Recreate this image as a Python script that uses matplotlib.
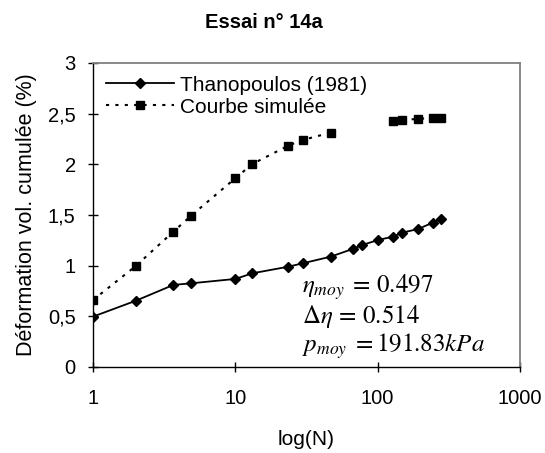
import numpy as np
import matplotlib
matplotlib.use("Agg")
import matplotlib.pyplot as plt
from matplotlib.ticker import FixedLocator, FixedFormatter, NullLocator

plt.rcParams['font.family'] = ['Liberation Sans', 'DejaVu Sans']

# Data
N = [1, 2, 3.67, 4.9, 10, 13.2, 23.6, 29.7, 46.8, 66.8, 78, 101, 128, 149, 193, 244, 277]
thanopoulos = [0.497, 0.654, 0.81, 0.826, 0.869, 0.925, 0.99, 1.023, 1.089, 1.165, 1.204,
               1.254, 1.286, 1.326, 1.362, 1.425, 1.461]
simulee = [0.661, 0.997, 1.336, 1.494, 1.863, 2.004, 2.185, 2.24, 2.313, np.nan, np.nan,
           np.nan, 2.43, 2.435, 2.45, 2.455, 2.455]

yticks = [0, 0.5, 1, 1.5, 2, 2.5, 3]
ytick_labels = ['0', '0,5', '1', '1,5', '2', '2,5', '3']
xticks = [1, 10, 100, 1000]
xtick_labels = ['1', '10', '100', '1000']

title = 'Essai n° 14a'
xlabel = 'log(N)'
ylabel = 'Déformation vol. cumulée (%)'
labels = ['Thanopoulos (1981)', 'Courbe simulée']
annot = [r'$\eta_{moy}\;=\,0.497$', r'$\Delta\eta\,=\,0.514$', r'$p_{moy}\;=191.83kPa$']

fig = plt.figure(figsize=(5.45, 4.53), dpi=100)
ax = fig.add_axes([93/545, 1-367/453, (520-93)/545, (367-63)/453])

ax.plot(N, thanopoulos, color='black', lw=1.3, marker='D', ms=5.5, label=labels[0])
ax.plot(N, simulee, color='black', lw=1.5, linestyle=(0, (1.5, 3)), marker='s', ms=6,
        label=labels[1])

ax.set_xscale('log')
ax.set_xlim(1, 1000)
ax.set_ylim(0, 3)
ax.xaxis.set_major_locator(FixedLocator(xticks))
ax.xaxis.set_major_formatter(FixedFormatter(xtick_labels))
ax.xaxis.set_minor_locator(NullLocator())
ax.yaxis.set_major_locator(FixedLocator(yticks))
ax.yaxis.set_major_formatter(FixedFormatter(ytick_labels))
ax.tick_params(axis='both', direction='inout', length=7, width=1, labelsize=14.5, colors='black')
ax.tick_params(axis='x', pad=12)
ax.tick_params(axis='y', pad=9)

for s in ['top', 'right']:
    ax.spines[s].set_color('#808080')
    ax.spines[s].set_linewidth(1.3)
for s in ['left', 'bottom']:
    ax.spines[s].set_color('black')
    ax.spines[s].set_linewidth(1)

ax.set_xlabel(xlabel, fontsize=15, labelpad=16)
ax.set_ylabel(ylabel, fontsize=15.5, labelpad=8)
fig.text(264/545, 1-22/453, title, fontsize=14.5, fontweight='bold', ha='center', va='center')

leg = ax.legend(loc='upper left', bbox_to_anchor=(0.0, 1.0), frameon=False, fontsize=15,
                handlelength=3.3, handletextpad=0.3, labelspacing=0.15, borderaxespad=0.2)

ys = [287, 317, 346]
for t, yp in zip(annot, ys):
    ax.text((302-93)/(520-93), (367-yp)/(367-63), t, transform=ax.transAxes,
            fontsize=18, ha='left', va='center', math_fontfamily='stix')

fig.savefig('out.png', dpi=100)
